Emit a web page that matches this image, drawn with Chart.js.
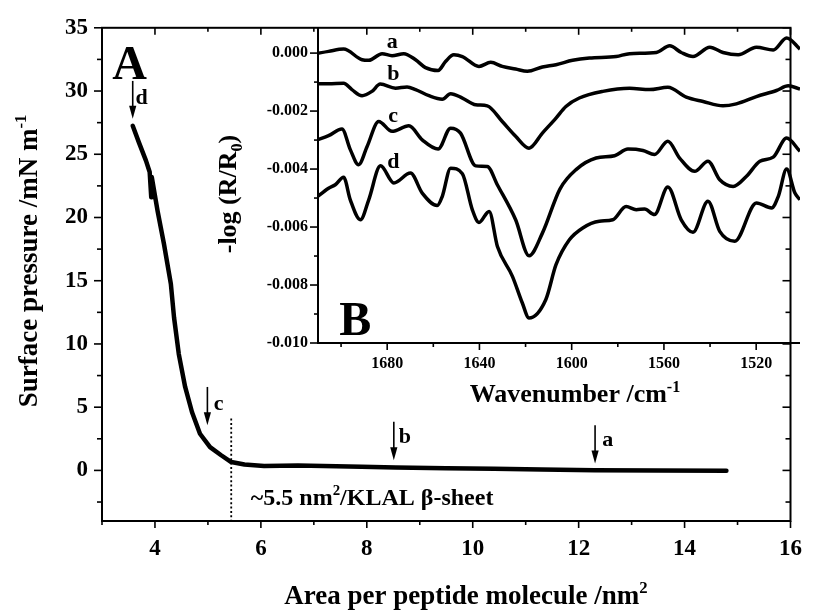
<!DOCTYPE html>
<html><head><meta charset="utf-8">
<script src="https://cdn.jsdelivr.net/npm/chart.js@4.4.1/dist/chart.umd.min.js"></script>
<style>
html,body{margin:0;padding:0;background:#fff;}
#wrap{position:relative;width:816px;height:610px;}
canvas{position:absolute;left:0;top:0;}
</style>
</head><body>
<div id="wrap"><canvas id="main" width="816" height="610"></canvas><canvas id="inset" width="816" height="610"></canvas></div>
<script>
// ---------- data ----------
const areaPerMolecule = [3.58,3.70,3.83,3.90,3.93,3.94,4.05,4.17,4.30,4.36,4.45,4.57,4.70,4.85,5.04,5.25,5.44,5.69,6.06,6.70,7.90,8.55,9.50,10.40,11.30,12.30,13.50,14.79];
const surfacePressure = [27.25,25.9,24.5,23.6,21.6,23.2,20.5,17.9,14.75,12.1,9.2,6.6,4.6,2.9,1.84,1.2,0.66,0.47,0.34,0.38,0.28,0.24,0.18,0.13,0.08,0.02,0.0,-0.03];

const waveA = [1711,1705.4,1698.9,1690.9,1688.0,1682.2,1677.9,1672.8,1667.7,1663.4,1657.9,1654.7,1651.1,1647.4,1640.2,1635.1,1630.1,1624.3,1619.2,1612.7,1606.8,1599.6,1592.3,1580.7,1574.9,1563.3,1557.5,1552.5,1547.4,1540.1,1534.4,1527.8,1519.9,1512.6,1506.8,1501];
const absA  = [-0.00002,0.00006,0.00014,-0.00023,-0.00025,-0.00002,-0.00009,-0.00002,-0.00023,-0.0005,-0.0006,-0.00029,-0.00006,-0.00012,-0.00046,-0.00032,-0.00046,-0.00055,-0.00063,-0.00048,-0.0004,-0.00025,-0.00017,-0.00012,-0.00002,0.00002,0.00025,0.00002,-0.00012,0.0002,0.00002,-0.00006,0.0002,0.00011,0.00052,0.00014];

const waveB = [1711,1705.4,1698.9,1695.3,1690.9,1686.6,1683.0,1676.4,1671.4,1667.7,1661.9,1656.1,1652.5,1647.4,1641.6,1636.6,1630.1,1624.3,1618.5,1612.7,1606.8,1602.5,1596.7,1586.5,1574.9,1566.2,1558.3,1550.3,1543.0,1534.4,1528.6,1519.9,1511.2,1506.1,1501];
const absB  = [-0.00106,-0.00106,-0.00104,-0.00126,-0.00147,-0.00132,-0.00107,-0.00121,-0.00117,-0.00126,-0.00147,-0.00159,-0.0014,-0.00155,-0.00178,-0.00182,-0.00236,-0.00287,-0.00328,-0.00276,-0.00224,-0.00184,-0.00155,-0.00132,-0.00121,-0.00126,-0.00118,-0.00152,-0.00167,-0.00182,-0.00175,-0.0015,-0.00129,-0.00113,-0.00124];

const waveC = [1711,1705.4,1699.6,1696.0,1692.4,1688.7,1683.7,1677.9,1670.6,1664.8,1657.9,1652.5,1648.2,1641.6,1636.6,1632.2,1624.3,1618.5,1612.7,1605.1,1598.1,1589.4,1581.4,1575.6,1569.1,1564.1,1558.3,1553.2,1546.7,1540.9,1535.8,1530.0,1524.2,1518.4,1512.6,1506.8,1501];
const absC  = [-0.00301,-0.00285,-0.00262,-0.00333,-0.00385,-0.00322,-0.00236,-0.0027,-0.00251,-0.00299,-0.00331,-0.00259,-0.00276,-0.00389,-0.00391,-0.00455,-0.00575,-0.00699,-0.00621,-0.00469,-0.00402,-0.00362,-0.00354,-0.00331,-0.00336,-0.0035,-0.00304,-0.00362,-0.00408,-0.00373,-0.00437,-0.0046,-0.00425,-0.00373,-0.00359,-0.00293,-0.00339];

const waveD = [1711,1705.4,1702.5,1698.9,1696.0,1691.6,1688.0,1682.9,1677.1,1669.9,1664.8,1658.3,1656.1,1652.5,1647.4,1643.1,1640.2,1635.8,1632.2,1625.7,1621.4,1618.5,1611.2,1606.8,1601.0,1595.2,1588.0,1582.2,1576.4,1572.0,1568.4,1564.1,1558.3,1552.5,1547.4,1540.9,1535.8,1529.3,1519.9,1513.3,1510.4,1506.8,1503.2,1501];
const absD  = [-0.005,-0.00466,-0.00454,-0.00428,-0.00506,-0.00575,-0.00506,-0.00389,-0.00448,-0.00414,-0.00483,-0.00526,-0.00494,-0.00397,-0.00416,-0.0054,-0.00584,-0.00546,-0.00667,-0.0077,-0.00862,-0.00914,-0.0085,-0.0073,-0.00644,-0.00603,-0.0058,-0.00575,-0.00529,-0.0054,-0.00538,-0.00557,-0.00462,-0.00575,-0.00618,-0.00511,-0.00615,-0.00649,-0.00517,-0.00534,-0.00494,-0.004,-0.00483,-0.00506];

const mainXTicks = [4,6,8,10,12,14,16];
const mainYTicks = [0,5,10,15,20,25,30,35];
const insetXTicks = [1680,1640,1600,1560,1520];
const insetYTicks = [0,-0.002,-0.004,-0.006,-0.008,-0.010];

// ---------- helpers ----------
const SERIF = '"Liberation Serif","Times New Roman",serif';
const fnt = s => 'bold ' + s + 'px ' + SERIF;
function pts(xs, ys){ return xs.map((v,i)=>({x:v, y:ys[i]})); }

// parts: [text, mode] mode 0 normal, 1 superscript, -1 subscript
function rich(ctx, parts, x, y, size, align){
  const small = size*0.62;
  let w = 0;
  parts.forEach(p=>{ ctx.font = fnt(p[1]? small: size); w += ctx.measureText(p[0]).width; });
  let cx = align==='center' ? x - w/2 : (align==='right' ? x - w : x);
  ctx.textAlign='left'; ctx.textBaseline='alphabetic';
  parts.forEach(p=>{
    ctx.font = fnt(p[1]? small: size);
    const dy = p[1]===1 ? -size*0.40 : (p[1]===-1 ? size*0.22 : 0);
    ctx.fillText(p[0], cx, y+dy);
    cx += ctx.measureText(p[0]).width;
  });
}
function seg(ctx,x1,y1,x2,y2){ ctx.beginPath(); ctx.moveTo(x1,y1); ctx.lineTo(x2,y2); ctx.stroke(); }
function arrow(ctx, x, y1, y2){
  ctx.lineWidth=1.6; seg(ctx,x,y1,x,y2-6);
  ctx.beginPath(); ctx.moveTo(x,y2); ctx.lineTo(x-3.6,y2-13); ctx.lineTo(x+3.6,y2-13); ctx.closePath(); ctx.fill();
}

// ---------- main chart decorations ----------
const mainDeco = {
  id:'mainDeco',
  afterDraw(chart){
    const {ctx, chartArea:ca, scales:{x,y}} = chart;
    ctx.save();
    ctx.strokeStyle='#000'; ctx.fillStyle='#000'; ctx.lineWidth=2;
    ctx.strokeRect(ca.left, ca.top, ca.right-ca.left, ca.bottom-ca.top);
    ctx.lineWidth=1.6;
    for(let v=3; v<=16; v++){
      const px = x.getPixelForValue(v), L = (v%2===0)?7:4;
      seg(ctx,px,ca.bottom,px,ca.bottom+L);
      seg(ctx,px,ca.top,px,ca.top+L);
    }
    for(let v=-2.5; v<=35.01; v+=2.5){
      const py = y.getPixelForValue(v), L = (Math.abs(v%5)<0.01)?8:5;
      seg(ctx,ca.left-L,py,ca.left,py);
      seg(ctx,ca.right-L,py,ca.right,py);
    }
    // dotted line
    ctx.save(); ctx.setLineDash([2,2.4]); ctx.lineWidth=1.8;
    const dx = x.getPixelForValue(5.44);
    seg(ctx,dx,y.getPixelForValue(4.1),dx,ca.bottom);
    ctx.restore();
    // arrows
    [[3.58,30.8,27.8],[4.99,6.6,3.58],[8.51,3.84,0.81],[12.31,3.58,0.55]].forEach(a=>{
      arrow(ctx, x.getPixelForValue(a[0]), y.getPixelForValue(a[1]), y.getPixelForValue(a[2]));
    });
    ctx.font=fnt(22); ctx.textAlign='center'; ctx.textBaseline='middle';
    [['d',3.75,29.46],['c',5.20,5.23],['b',8.72,2.63],['a',12.55,2.39]].forEach(l=>{
      ctx.fillText(l[0], x.getPixelForValue(l[1]), y.getPixelForValue(l[2]));
    });
    // big A
    ctx.font=fnt(48); ctx.textAlign='center'; ctx.textBaseline='alphabetic';
    ctx.fillText('A', x.getPixelForValue(3.52), y.getPixelForValue(30.96));
    // beta-sheet note
    rich(ctx, [['~5.5 nm',0],['2',1],['/KLAL \u03b2-sheet',0]], x.getPixelForValue(5.81), y.getPixelForValue(-2.74), 24, 'left');
    // titles
    rich(ctx, [['Area per peptide molecule /nm',0],['2',1]], 466, 604, 27, 'center');
    ctx.save(); ctx.translate(37, 261); ctx.rotate(-Math.PI/2);
    rich(ctx, [['Surface pressure /mN m',0],['-1',1]], 0, 0, 27, 'center');
    ctx.restore();
    ctx.restore();
  }
};

// ---------- inset decorations ----------
const insetDeco = {
  id:'insetDeco',
  afterDraw(chart){
    const {ctx, chartArea:ca, scales:{x,y}} = chart;
    ctx.save();
    ctx.strokeStyle='#000'; ctx.fillStyle='#000'; ctx.lineWidth=2;
    seg(ctx,ca.left,ca.top,ca.left,ca.bottom+1);
    seg(ctx,ca.left-1,ca.bottom,ca.right,ca.bottom);
    ctx.lineWidth=1.6;
    for(let v=1700; v>=1520; v-=20){
      const px=x.getPixelForValue(v), L=(v%40===0)?7:4;
      seg(ctx,px,ca.bottom,px,ca.bottom+L);
    }
    for(let k=0; k<=10; k++){
      const v=-k*0.001, py=y.getPixelForValue(v), L=(k%2===0)?8:4;
      seg(ctx,ca.left-L,py,ca.left,py);
    }
    ctx.font=fnt(22); ctx.textAlign='center'; ctx.textBaseline='middle';
    [['a',1677.8,0.000366],['b',1677.3,-0.000748],['c',1677.4,-0.002186],['d',1677.3,-0.003772]].forEach(l=>{
      ctx.fillText(l[0], x.getPixelForValue(l[1]), y.getPixelForValue(l[2]));
    });
    ctx.font=fnt(48); ctx.textAlign='center'; ctx.textBaseline='alphabetic';
    ctx.fillText('B', x.getPixelForValue(1693.8), y.getPixelForValue(-0.00971));
    rich(ctx, [['Wavenumber /cm',0],['-1',1]], 575, 402, 26, 'center');
    ctx.save(); ctx.translate(236, 194); ctx.rotate(-Math.PI/2);
    rich(ctx, [['-log (R/R',0],['0',-1],[')',0]], 0, 0, 26, 'center');
    ctx.restore();
    ctx.restore();
  }
};

const tickFont = s => ({family:SERIF, weight:'bold', size:s});

new Chart(document.getElementById('main'), {
  type:'line',
  data:{datasets:[{data:pts(areaPerMolecule, surfacePressure), borderColor:'#000', borderWidth:4.5, pointRadius:0, tension:0, fill:false, borderCapStyle:'round', borderJoinStyle:'round'}]},
  options:{
    responsive:false, animation:false, devicePixelRatio:1,
    layout:{padding:{left:0,right:16,top:27,bottom:0}},
    plugins:{legend:{display:false}, tooltip:{enabled:false}},
    scales:{
      x:{type:'linear', min:3, max:16, grid:{display:false, drawTicks:false}, border:{display:false},
        afterBuildTicks:s=>{ s.ticks = mainXTicks.map(v=>({value:v})); },
        afterFit:s=>{ s.height = 89; },
        ticks:{font:tickFont(23), color:'#000', padding:14, maxRotation:0, autoSkip:false, callback:v=>String(v)}},
      y:{type:'linear', min:-4, max:35, grid:{display:false, drawTicks:false}, border:{display:false},
        afterBuildTicks:s=>{ s.ticks = mainYTicks.map(v=>({value:v})); },
        afterFit:s=>{ s.width = 102; },
        ticks:{font:tickFont(23), color:'#000', padding:14, autoSkip:false, callback:v=>String(v)}}
    }
  },
  plugins:[mainDeco]
});

const ds = (xs,ys)=>({data:pts(xs,ys), borderColor:'#000', borderWidth:3.5, pointRadius:0, cubicInterpolationMode:'monotone', fill:false, borderJoinStyle:'round'});

new Chart(document.getElementById('inset'), {
  type:'line',
  data:{datasets:[ds(waveA,absA), ds(waveB,absB), ds(waveC,absC), ds(waveD,absD)]},
  options:{
    responsive:false, animation:false, devicePixelRatio:1,
    layout:{padding:{left:258,right:16,top:27,bottom:227}},
    plugins:{legend:{display:false}, tooltip:{enabled:false}},
    scales:{
      x:{type:'linear', reverse:true, min:1501, max:1710, grid:{display:false, drawTicks:false}, border:{display:false},
        afterBuildTicks:s=>{ s.ticks = insetXTicks.map(v=>({value:v})); },
        afterFit:s=>{ s.height = 40; },
        ticks:{font:tickFont(16), color:'#000', padding:11, maxRotation:0, autoSkip:false, callback:v=>String(v)}},
      y:{type:'linear', min:-0.010, max:0.0009, grid:{display:false, drawTicks:false}, border:{display:false},
        afterBuildTicks:s=>{ s.ticks = insetYTicks.map(v=>({value:v})); },
        afterFit:s=>{ s.width = 60; },
        ticks:{font:tickFont(16), color:'#000', padding:10, autoSkip:false, callback:v=>Number(v).toFixed(3)}}
    }
  },
  plugins:[insetDeco]
});
</script>
</body></html>
